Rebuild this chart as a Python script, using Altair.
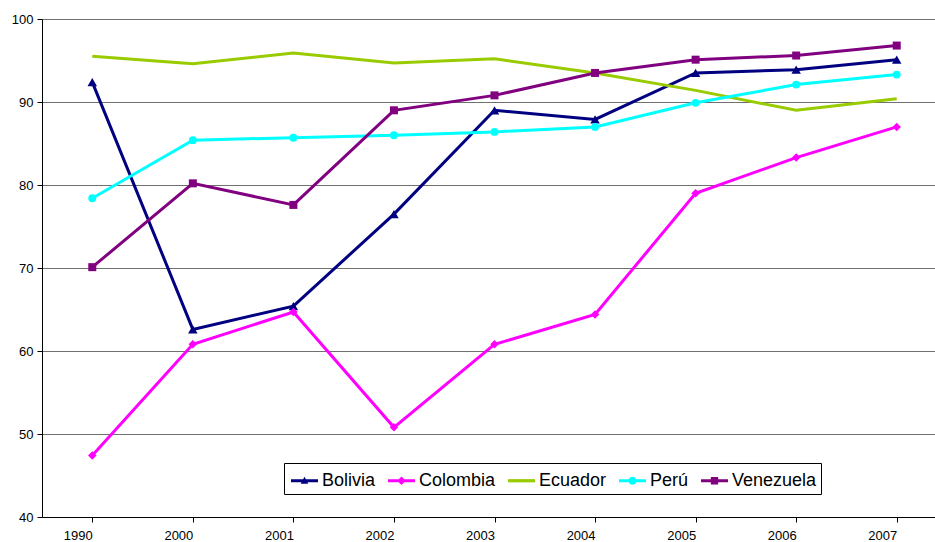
import altair as alt
import pandas as pd

years = ["1990", "2000", "2001", "2002", "2003", "2004", "2005", "2006", "2007"]
countries = ["Bolivia", "Colombia", "Ecuador", "Perú", "Venezuela"]
bolivia = [92.4, 62.6, 65.4, 76.5, 89.0, 87.9, 93.5, 93.9, 95.1]
colombia = [47.4, 60.8, 64.7, 50.8, 60.8, 64.4, 79.0, 83.3, 87.0]
ecuador = [95.5, 94.6, 95.9, 94.7, 95.2, 93.5, 91.4, 89.0, 90.4]
peru = [78.4, 85.4, 85.7, 86.0, 86.4, 87.0, 89.9, 92.1, 93.3]
venezuela = [70.1, 80.2, 77.6, 89.0, 90.8, 93.5, 95.1, 95.6, 96.8]
y_ticks = [40, 50, 60, 70, 80, 90, 100]

colors = ["#000080", "#FF00FF", "#99CC00", "#00FFFF", "#800080"]
marker_shapes = {"Bolivia": "triangle-up", "Colombia": "diamond", "Perú": "circle", "Venezuela": "square"}
marker_sizes = {"Bolivia": 90, "Colombia": 72, "Perú": 62, "Venezuela": 64}

series = [bolivia, colombia, ecuador, peru, venezuela]
rows = []
for c, vals in zip(countries, series):
    for yr, v in zip(years, vals):
        rows.append({"year": yr, "country": c, "value": v})
df = pd.DataFrame(rows)

FONT = "Liberation Sans"

x_scale = alt.Scale(domain=years, range=[0, 905], paddingInner=0, paddingOuter=0)
y_scale = alt.Scale(domain=[40, 100], nice=False, zero=False)
color_scale = alt.Scale(domain=countries, range=colors)

# legend symbol paths: line + marker (all drawn clockwise so they fill solid)
line_p = "M-1,-0.12L1,-0.12L1,0.12L-1,0.12Z"
tri_p = "M0,-0.3L0.28,0.22L-0.28,0.22Z"
dia_p = "M0,-0.32L0.32,0L0,0.32L-0.32,0Z"
cir_p = "M-0.3,0A0.3,0.3 0 1,1 0.3,0A0.3,0.3 0 1,1 -0.3,0Z"
sq_p = "M-0.27,-0.27L0.27,-0.27L0.27,0.27L-0.27,0.27Z"
legend_paths = [line_p + tri_p, line_p + dia_p, line_p, line_p + cir_p, line_p + sq_p]

legend = alt.Legend(
    title=None,
    orient="none",
    legendX=242,
    legendY=444,
    direction="horizontal",
    columns=5,
    strokeColor="black",
    fillColor="white",
    padding=4,
    cornerRadius=0,
    labelFont=FONT,
    labelFontSize=18,
    labelColor="black",
    labelOffset=4,
    symbolOffset=3,
    columnPadding=9,
    symbolSize=729,
    symbolStrokeWidth=0,
    symbolOpacity=1,
)

x_enc = alt.X(
    "year:N",
    scale=x_scale,
    sort=years,
    axis=alt.Axis(
        title=None,
        labelAngle=0,
        bandPosition=0,
        tickSize=5,
        tickColor="black",
        domainColor="black",
        labelFont=FONT,
        labelFontSize=13,
        labelColor="black",
        labelPadding=13,
        grid=False,
    ),
)
y_enc = alt.Y(
    "value:Q",
    scale=y_scale,
    axis=alt.Axis(
        title=None,
        values=y_ticks,
        tickSize=5,
        tickColor="black",
        domainColor="black",
        labelFont=FONT,
        labelFontSize=13,
        labelColor="black",
        labelPadding=4,
        grid=True,
        gridColor="#707070",
        gridWidth=1,
    ),
)

color_enc = alt.Color("country:N", scale=color_scale, sort=countries, legend=legend)

base = alt.Chart(df)

legend_layer = (
    base.transform_filter("false")
    .mark_point(filled=True, size=729)
    .encode(
        x=alt.X("year:N", scale=x_scale, sort=years),
        y=alt.Y("value:Q", scale=y_scale),
        color=color_enc,
        shape=alt.Shape(
            "country:N",
            scale=alt.Scale(domain=countries, range=legend_paths),
            sort=countries,
            legend=legend,
        ),
    )
)

lines = base.mark_line(strokeWidth=3).encode(
    x=x_enc,
    y=y_enc,
    color=color_enc,
    order=alt.Order("year:N"),
)

marker_layers = []
for c, shp in marker_shapes.items():
    marker_layers.append(
        base.transform_filter(alt.datum.country == c)
        .mark_point(filled=True, opacity=1, size=marker_sizes[c], shape=shp)
        .encode(
            x=alt.X("year:N", scale=x_scale, sort=years),
            y=alt.Y("value:Q", scale=y_scale),
            color=color_enc,
        )
    )

chart = (
    alt.layer(legend_layer, lines, *marker_layers)
    .properties(
        width=893,
        height=498,
        autosize=alt.AutoSizeParams(type="none"),
        padding={"left": 42, "top": 19, "right": 0, "bottom": 25},
    )
    .configure_view(stroke=None)
    .configure(background="white")
)

chart.save("out.html", embed_options={"renderer": "svg", "actions": False})
